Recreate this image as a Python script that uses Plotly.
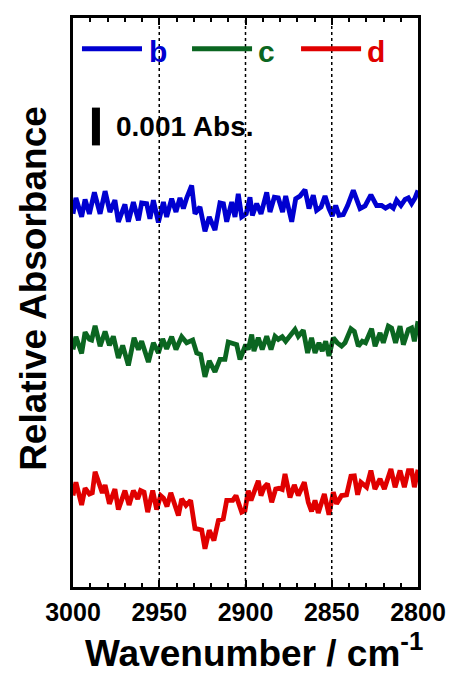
import plotly.graph_objects as go

# ---------------- data (wavenumber in cm-1, deviation in mAbs) ----------------
blue_wn = [3000, 2998.3, 2995.0, 2993.0, 2990.5, 2987.6, 2984.3, 2981.4, 2978.6, 2975.7, 2973.7, 2969.9, 2967.9, 2965.0, 2962.1, 2960.2, 2957.3, 2955.4, 2953.4, 2950.5, 2947.6, 2945.7, 2942.8, 2940.3, 2938.0, 2936.0, 2934.1, 2931.2, 2929.3, 2926.4, 2923.5, 2921.0, 2917.7, 2914.8, 2912.8, 2910.9, 2908.0, 2906.1, 2904.2, 2902.2, 2899.6, 2897.4, 2896.0, 2893.5, 2891.0, 2887.7, 2885.8, 2883.3, 2881.0, 2878.5, 2876.7, 2873.2, 2870.9, 2868.4, 2865.5, 2863.2, 2860.7, 2858.8, 2856.2, 2853.9, 2851.6, 2849.7, 2847.7, 2845.8, 2843.3, 2840.8, 2837.5, 2833.6, 2830.7, 2827.3, 2824.0, 2821.1, 2818.8, 2816.2, 2814.3, 2812.4, 2809.9, 2807.5, 2805.6, 2803.7, 2801.7, 2800.0]
blue_dev = [-0.18, 0.24, -0.26, 0.20, -0.18, 0.39, -0.18, 0.42, -0.13, 0.18, -0.39, 0.07, -0.39, 0.13, -0.35, 0.11, 0.09, -0.31, 0.18, -0.41, 0.13, -0.26, 0.22, -0.13, 0.24, -0.04, 0.24, 0.57, -0.18, 0.0, -0.64, -0.26, -0.61, 0.11, 0.09, -0.39, 0.13, -0.26, 0.35, -0.26, -0.18, 0.26, -0.22, 0.09, -0.18, 0.39, -0.13, 0.26, 0.24, -0.13, 0.29, -0.39, 0.22, 0.29, 0.46, -0.04, 0.31, -0.09, 0.0, 0.29, -0.04, -0.24, 0.04, -0.22, -0.20, 0.04, 0.44, -0.04, 0.03, 0.32, 0.04, 0.04, -0.03, 0.04, -0.03, 0.18, 0.04, 0.20, 0.24, 0.09, 0.24, 0.44]

green_wn = [3000, 2998.3, 2995.0, 2993.0, 2990.5, 2989.2, 2987.2, 2984.3, 2981.4, 2978.9, 2976.6, 2973.7, 2971.2, 2967.9, 2964.6, 2962.1, 2960.2, 2956.3, 2953.4, 2950.5, 2948.0, 2945.7, 2942.8, 2940.3, 2937.0, 2934.1, 2930.6, 2928.3, 2926.0, 2923.5, 2921.0, 2917.7, 2914.8, 2911.9, 2910.0, 2907.1, 2905.1, 2903.2, 2899.9, 2898.4, 2896.4, 2895.1, 2892.6, 2890.3, 2887.7, 2885.2, 2882.9, 2881.0, 2878.7, 2876.7, 2874.2, 2871.3, 2869.4, 2866.5, 2864.0, 2861.7, 2859.7, 2857.4, 2855.5, 2853.5, 2851.6, 2849.1, 2846.8, 2844.3, 2842.3, 2838.9, 2836.9, 2834.6, 2832.3, 2830.4, 2826.9, 2824.9, 2822.0, 2820.1, 2817.2, 2815.3, 2813.0, 2810.4, 2808.5, 2805.6, 2803.7, 2802.1, 2800.0]
green_dev = [-0.09, 0.25, -0.19, 0.37, 0.18, 0.16, 0.54, 0.0, 0.39, 0.02, 0.26, -0.31, 0.02, -0.51, 0.22, -0.09, 0.13, -0.42, 0.09, -0.18, 0.19, -0.07, 0.25, -0.09, 0.25, 0.09, 0.16, -0.18, -0.22, -0.81, -0.39, -0.68, -0.35, -0.35, 0.11, 0.07, 0.04, -0.35, 0.04, -0.09, 0.31, -0.13, 0.22, -0.09, 0.26, -0.09, 0.26, 0.18, 0.25, 0.13, 0.26, 0.44, 0.26, 0.42, -0.18, 0.22, -0.18, 0.09, -0.13, 0.13, -0.26, 0.22, 0.09, 0.0, 0.09, 0.46, 0.39, 0.0, 0.13, 0.09, 0.46, 0.0, 0.35, 0.09, 0.53, 0.48, 0.09, 0.53, 0.04, 0.44, 0.48, 0.13, 0.66]

red_wn = [3000, 2998.3, 2995.0, 2993.0, 2990.5, 2988.8, 2987.2, 2984.3, 2983.0, 2981.4, 2978.9, 2975.7, 2973.7, 2969.9, 2967.5, 2965.0, 2962.5, 2960.8, 2958.8, 2956.7, 2953.8, 2951.5, 2949.2, 2947.5, 2945.5, 2943.3, 2940.9, 2938.9, 2937.0, 2934.5, 2931.8, 2929.3, 2925.4, 2923.5, 2921.0, 2918.3, 2915.7, 2912.9, 2910.9, 2907.4, 2905.5, 2902.2, 2900.3, 2898.4, 2896.8, 2894.9, 2892.6, 2891.0, 2889.1, 2887.2, 2884.8, 2882.5, 2880.6, 2878.7, 2877.1, 2874.2, 2871.7, 2869.4, 2865.9, 2863.6, 2861.7, 2859.7, 2857.8, 2854.3, 2851.6, 2849.1, 2847.2, 2844.3, 2841.4, 2838.9, 2836.9, 2835.0, 2833.1, 2829.8, 2827.3, 2825.0, 2822.0, 2819.5, 2815.7, 2813.3, 2810.4, 2807.9, 2805.6, 2803.7, 2802.1, 2800.0]
red_dev = [-0.13, 0.22, -0.38, 0.06, -0.09, -0.06, 0.50, 0.04, -0.06, 0.15, -0.35, 0.04, -0.50, 0.0, -0.38, 0.0, -0.22, 0.0, -0.04, -0.57, 0.0, -0.50, -0.13, -0.20, -0.42, -0.06, -0.44, -0.66, -0.22, -0.39, -0.26, -1.0, -1.04, -1.54, -1.05, -1.32, -0.79, -0.75, -0.26, -0.26, -0.13, -0.57, -0.53, 0.0, -0.26, -0.04, 0.26, -0.13, 0.09, 0.18, -0.31, 0.04, 0.06, 0.03, 0.44, -0.18, 0.15, -0.13, 0.22, -0.31, -0.55, -0.26, -0.59, -0.09, -0.64, -0.04, -0.35, -0.13, -0.11, 0.38, 0.39, -0.11, 0.22, 0.09, 0.53, 0.04, 0.31, 0.04, 0.57, 0.09, 0.53, 0.09, 0.53, 0.53, 0.09, 0.55]

series_names = ["b", "c", "d"]
series_colors = ["#0000D0", "#0B6621", "#E00000"]
series_offsets = [0.01005, 0.00637, 0.00255]   # vertical stacking offsets (Abs)

guide_lines = [2950, 2900, 2850]
x_ticks = [3000, 2950, 2900, 2850, 2800]
x_range = [3000, 2800]
y_range = [0.0, 0.01505]

scale_bar_value = 0.001          # Abs
scale_bar_x = 2986.7
scale_bar_y0 = 0.01168
scale_bar_label = "0.001 Abs."

FONT = "Arial, Liberation Sans, Helvetica, sans-serif"

fig = go.Figure()

# dotted guide lines (drawn on the top x axis so it carries the mirrored ticks)
gx, gy = [], []
for g in guide_lines:
    gx += [g, g, None]
    gy += [y_range[0], y_range[1], None]
fig.add_trace(go.Scatter(x=gx, y=gy, xaxis="x2", yaxis="y", mode="lines",
                         line=dict(color="black", width=1.5, dash="dot"),
                         hoverinfo="skip", showlegend=False))

series = [(blue_wn, blue_dev), (green_wn, green_dev), (red_wn, red_dev)]
for (wn, dev), name, color, off in zip(series, series_names, series_colors, series_offsets):
    n = min(len(wn), len(dev))
    fig.add_trace(go.Scatter(
        x=wn[:n], y=[off + d * 1e-3 for d in dev[:n]],
        mode="lines", name=name,
        line=dict(color=color, width=4.8, shape="linear"),
        showlegend=False,
    ))

# scale bar
fig.add_shape(type="line", xref="x", yref="y",
              x0=scale_bar_x, x1=scale_bar_x,
              y0=scale_bar_y0, y1=scale_bar_y0 + scale_bar_value,
              line=dict(color="black", width=8))
fig.add_annotation(x=2976.2, y=scale_bar_y0 + scale_bar_value / 2, xref="x", yref="y",
                   text=scale_bar_label, showarrow=False, xanchor="left", yanchor="middle",
                   font=dict(family=FONT, size=28, color="black", weight="bold"))

# manual legend (line samples + coloured letters)
leg_line_x = [(0.026, 0.200), (0.345, 0.519), (0.661, 0.835)]
leg_text_x = [0.214, 0.530, 0.846]
for (x0, x1), tx, name, color in zip(leg_line_x, leg_text_x, series_names, series_colors):
    fig.add_shape(type="line", xref="paper", yref="paper", x0=x0, x1=x1, y0=0.9458, y1=0.9458,
                  line=dict(color=color, width=5))
    fig.add_annotation(x=tx, y=0.942, xref="paper", yref="paper", text=name, showarrow=False,
                       xanchor="left", yanchor="middle",
                       font=dict(family=FONT, size=30, color=color, weight="bold"))

# axis titles as annotations
fig.add_annotation(x=0.525, y=-0.111, xref="paper", yref="paper",
                   text="Wavenumber / cm<sup>-1</sup>", showarrow=False,
                   xanchor="center", yanchor="middle",
                   font=dict(family=FONT, size=37, color="black", weight="bold"))
fig.add_annotation(x=-0.113, y=0.524, xref="paper", yref="paper",
                   text="Relative Absorbance", showarrow=False, textangle=-90,
                   xanchor="center", yanchor="middle",
                   font=dict(family=FONT, size=37, color="black", weight="bold"))

fig.update_layout(
    xaxis=dict(
        range=x_range, tickmode="array", tickvals=x_ticks,
        ticktext=[str(t) for t in x_ticks],
        ticks="inside", ticklen=7, tickwidth=2, tickcolor="black",
        minor=dict(dtick=10, ticks="inside", ticklen=4, tickwidth=2, tickcolor="black"),
        showline=True, linewidth=3, linecolor="black", mirror=True,
        showgrid=False, zeroline=False,
        tickfont=dict(family=FONT, size=25, color="black", weight="bold"),
        ticklabelstandoff=1,
    ),
    xaxis2=dict(
        range=x_range, overlaying="x", side="top", tickmode="array", tickvals=x_ticks,
        showticklabels=False,
        ticks="inside", ticklen=7, tickwidth=2, tickcolor="black",
        minor=dict(dtick=10, ticks="inside", ticklen=4, tickwidth=2, tickcolor="black"),
        showline=False, showgrid=False, zeroline=False,
    ),
    yaxis=dict(
        range=y_range, showticklabels=False, ticks="",
        showline=True, linewidth=3, linecolor="black", mirror=True,
        showgrid=False, zeroline=False,
    ),
    width=448, height=665,
    margin=dict(l=65, r=38, t=7, b=86),
    plot_bgcolor="white", paper_bgcolor="white",
    showlegend=False,
)

fig.write_html("out.html")
